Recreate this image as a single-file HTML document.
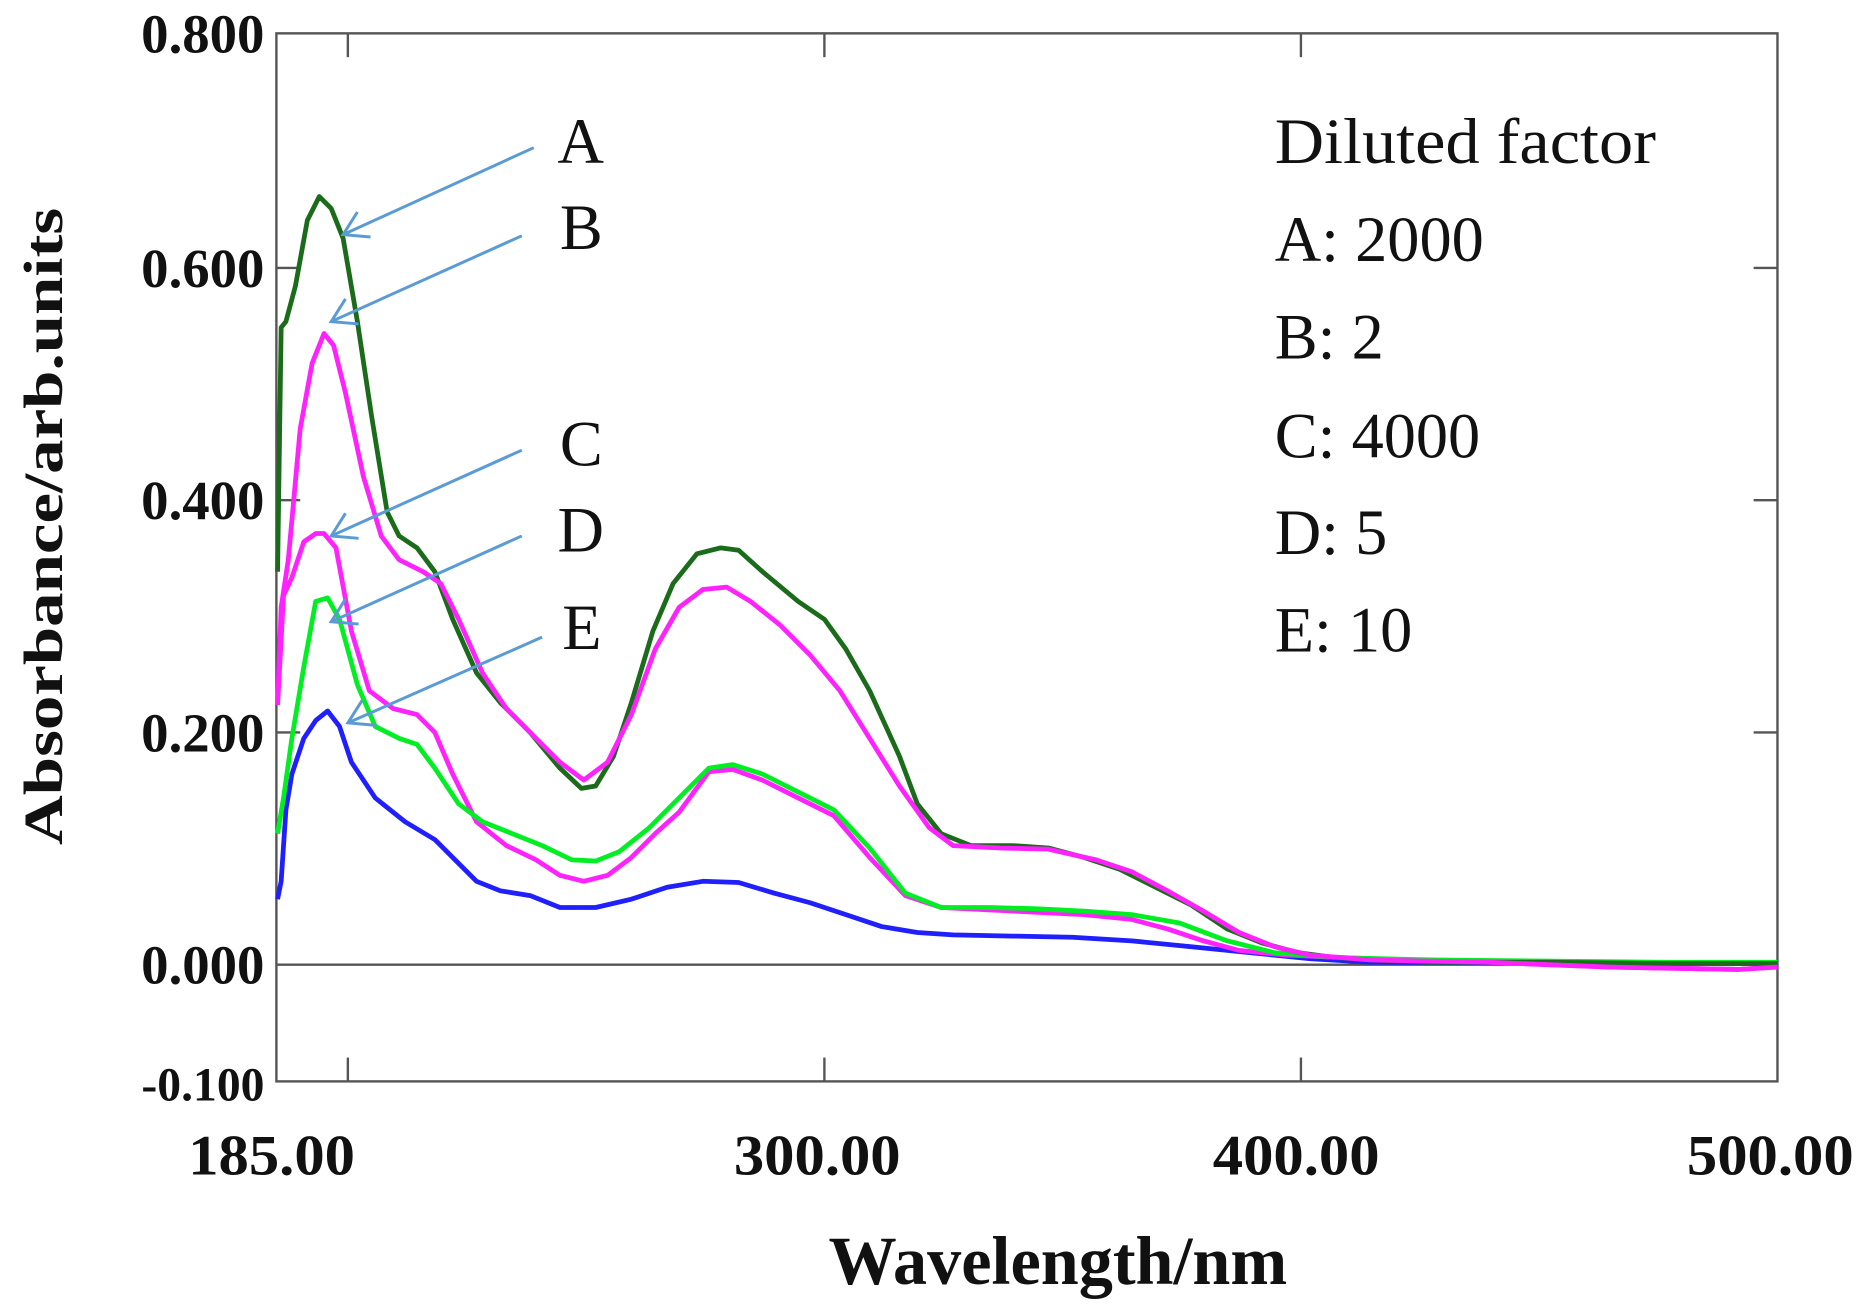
<!DOCTYPE html>
<html><head><meta charset="utf-8"><style>html,body{margin:0;padding:0;background:#fff;overflow:hidden}svg{display:block}</style></head>
<body>
<svg width="1868" height="1316" viewBox="0 0 1568 1105" preserveAspectRatio="none" xmlns="http://www.w3.org/2000/svg">
<rect width="1568" height="1105" fill="#fff"/>
<g fill="none" stroke="#555" stroke-width="2">
<rect x="232" y="28" width="1260" height="880"/>
<line x1="232" y1="810" x2="1492" y2="810"/>
<line x1="292" y1="28" x2="292" y2="48"/><line x1="692" y1="28" x2="692" y2="48"/><line x1="1092" y1="28" x2="1092" y2="48"/>
<line x1="292" y1="908" x2="292" y2="888"/><line x1="692" y1="908" x2="692" y2="888"/><line x1="1092" y1="908" x2="1092" y2="888"/>
<line x1="232" y1="225" x2="252" y2="225"/><line x1="232" y1="420" x2="252" y2="420"/><line x1="232" y1="615" x2="252" y2="615"/>
<line x1="1492" y1="225" x2="1472" y2="225"/><line x1="1492" y1="420" x2="1472" y2="420"/><line x1="1492" y1="615" x2="1472" y2="615"/>
</g>
<g font-family="Liberation Serif, serif" font-weight="bold" font-size="46" fill="#111" text-anchor="end">
<text x="222" y="44">0.800</text><text x="222" y="241">0.600</text><text x="222" y="436">0.400</text><text x="222" y="631">0.200</text><text x="222" y="826">0.000</text>
<text x="222" y="924" font-size="40">-0.100</text>
</g>
<g font-family="Liberation Serif, serif" font-weight="bold" font-size="48" fill="#111" text-anchor="middle">
<text x="228" y="986" textLength="140" lengthAdjust="spacingAndGlyphs">185.00</text>
<text x="686" y="986" textLength="140" lengthAdjust="spacingAndGlyphs">300.00</text>
<text x="1088" y="986" textLength="140" lengthAdjust="spacingAndGlyphs">400.00</text>
<text x="1486" y="986" textLength="140" lengthAdjust="spacingAndGlyphs">500.00</text>
<text x="888" y="1078" font-size="58" textLength="385" lengthAdjust="spacingAndGlyphs">Wavelength/nm</text>
<text transform="translate(52,442) rotate(-90)" font-size="46" textLength="535" lengthAdjust="spacingAndGlyphs">Absorbance/arb.units</text>
</g>
<g fill="none" stroke-width="4" stroke-linejoin="round">
<polyline stroke="#1f1fff" points="233,755 236,740 240,680 245,650 255,620 265,605 275,597 285,610 295,640 315,670 340,690 365,705 385,725 400,740 420,748 445,752 470,762 500,762 530,755 560,745 590,740 620,741 650,750 680,758 710,768 740,778 770,783 800,785 850,786 900,787 950,790 1000,795 1050,800 1100,805 1150,808 1492,809"/>
<polyline stroke="#ff22ff" points="233,592 238,500 245,485 255,455 265,448 272,448 282,460 295,530 310,580 330,595 350,600 365,615 380,650 400,690 425,710 450,722 470,735 490,740 510,735 530,720 550,700 570,682 595,648 615,646 640,655 670,670 700,685 730,720 760,752 790,762 830,764 870,766 910,768 950,772 980,780 1010,790 1040,798 1080,802 1150,805 1250,808 1350,812 1460,814 1492,812"/>
<polyline stroke="#00ee22" points="233,700 238,670 245,620 255,560 265,505 275,502 285,520 300,575 315,610 335,620 350,625 365,645 385,675 405,690 430,700 455,710 480,722 500,723 520,715 545,695 570,670 595,645 615,642 640,650 670,665 700,680 730,712 760,750 790,762 830,762 870,763 910,765 950,768 990,775 1030,790 1070,800 1120,804 1200,806 1300,807 1400,808 1492,808"/>
<polyline stroke="#1a6b1a" points="233,480 236,275 240,270 248,240 258,185 268,165 278,175 288,200 300,270 312,350 325,430 335,450 350,460 365,480 380,520 400,565 420,590 445,615 470,645 488,662 500,660 515,635 530,590 548,530 565,490 585,465 605,460 620,462 640,480 670,505 692,520 710,545 730,580 755,635 770,675 790,700 815,710 850,710 880,712 910,720 940,730 970,745 1000,760 1030,780 1060,792 1090,800 1120,804 1150,806 1200,808 1300,808 1400,809 1492,809"/>
<polyline stroke="#ff22ff" points="233,590 236,510 242,470 252,360 262,305 272,280 280,290 290,330 305,400 320,450 335,470 355,480 370,490 385,520 405,565 425,595 450,620 470,640 490,655 510,640 530,600 550,545 570,510 590,495 610,493 630,505 655,525 680,550 705,580 730,620 755,660 780,695 800,710 840,712 880,713 920,722 950,732 980,748 1010,765 1040,783 1070,795 1100,802 1150,806 1250,808 1350,812 1460,814 1492,812"/>
</g>
<g stroke="#5b9bd5" stroke-width="2.5" fill="none">
<line x1="448" y1="124" x2="288" y2="197"/><polyline points="300,178 288,197 311,199"/>
<line x1="438" y1="198" x2="278" y2="270"/><polyline points="290,251 278,270 301,272"/>
<line x1="438" y1="378" x2="278" y2="450"/><polyline points="290,431 278,450 301,452"/>
<line x1="438" y1="450" x2="278" y2="522"/><polyline points="290,503 278,522 301,524"/>
<line x1="455" y1="535" x2="292" y2="607"/><polyline points="304,588 292,607 315,609"/>
</g>
<g font-family="Liberation Serif, serif" font-size="54" fill="#111">
<text x="468" y="137">A</text><text x="470" y="209">B</text><text x="470" y="391">C</text><text x="468" y="463">D</text><text x="472" y="545">E</text>
<text x="1070" y="137" textLength="320" lengthAdjust="spacingAndGlyphs">Diluted factor</text>
<text x="1070" y="219">A: 2000</text>
<text x="1070" y="301">B: 2</text>
<text x="1070" y="384">C: 4000</text>
<text x="1070" y="465">D: 5</text>
<text x="1070" y="547">E: 10</text>
</g>
</svg>
</body></html>
